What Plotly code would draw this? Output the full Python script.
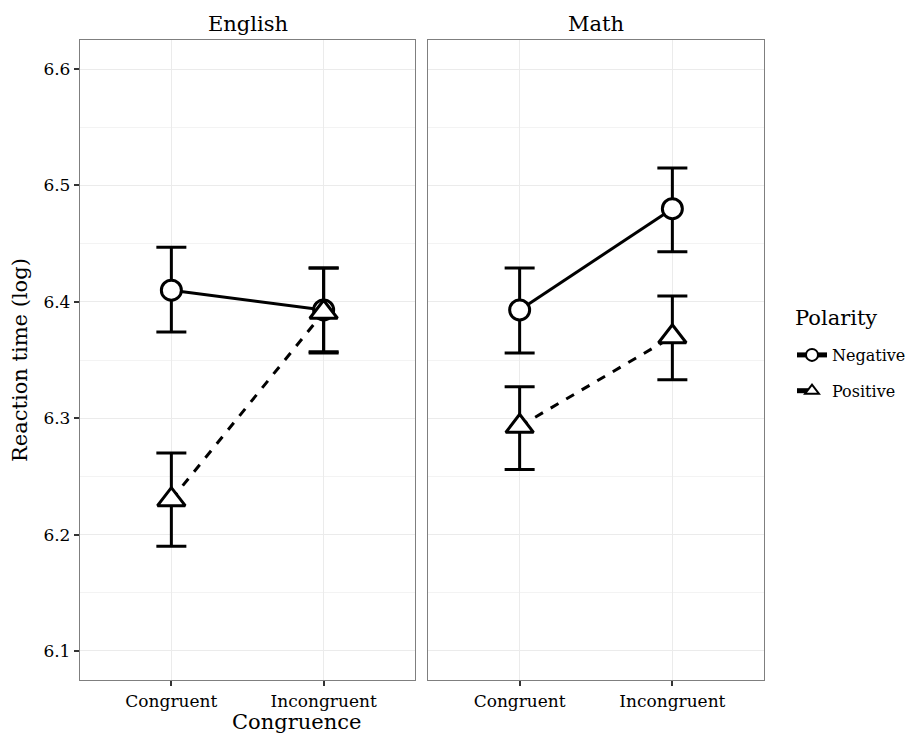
import plotly.graph_objects as go

categories = ["Congruent", "Incongruent"]
subjects = ["English", "Math"]
polarities = ["Negative", "Positive"]

eng_neg_mean = [6.410, 6.393]
eng_neg_lo = [6.374, 6.357]
eng_neg_hi = [6.447, 6.429]
eng_pos_mean = [6.230, 6.391]
eng_pos_lo = [6.190, 6.356]
eng_pos_hi = [6.270, 6.429]

math_neg_mean = [6.393, 6.480]
math_neg_lo = [6.356, 6.443]
math_neg_hi = [6.429, 6.515]
math_pos_mean = [6.293, 6.370]
math_pos_lo = [6.256, 6.333]
math_pos_hi = [6.327, 6.405]

y_ticks = [6.1, 6.2, 6.3, 6.4, 6.5, 6.6]
y_minor = [6.15, 6.25, 6.35, 6.45, 6.55]

FONT = "DejaVu Serif"
W, H = 916, 738
L, R, T, B = 80, 152, 40, 58

fig = go.Figure()

series = [
    ("x", "y", eng_neg_mean, eng_neg_lo, eng_neg_hi, "Negative", True),
    ("x", "y", eng_pos_mean, eng_pos_lo, eng_pos_hi, "Positive", True),
    ("x2", "y2", math_neg_mean, math_neg_lo, math_neg_hi, "Negative", False),
    ("x2", "y2", math_pos_mean, math_pos_lo, math_pos_hi, "Positive", False),
]

for xa, ya, m, lo, hi, pol, show in series:
    neg = pol == "Negative"
    fig.add_trace(go.Scatter(
        x=categories, y=m, xaxis=xa, yaxis=ya,
        mode="lines+markers", name=pol, legendgroup=pol, showlegend=show,
        line=dict(color="black", width=3, dash="solid" if neg else "dash"),
        marker=dict(symbol="circle" if neg else "triangle-up",
                    size=20 if neg else 24, color="white",
                    line=dict(color="black", width=3)),
        error_y=dict(type="data", symmetric=False,
                     array=[h - v for h, v in zip(hi, m)],
                     arrayminus=[v - l for l, v in zip(lo, m)],
                     color="black", thickness=3, width=15),
    ))

pw = W - L - R
ph = H - T - B
d1 = [0, 335 / pw]
d2 = [348 / pw, 1]

yr = [6.075, 6.625]
xr = [-0.6, 1.6]
common_x = dict(type="category", range=xr, showline=True, mirror=True,
                linecolor="#7f7f7f", linewidth=1.3, showgrid=True,
                gridcolor="#ebebeb", gridwidth=1, ticks="outside",
                ticklen=5, tickwidth=2, tickcolor="#333333",
                tickfont=dict(family=FONT, size=17, color="black"),
                zeroline=False, automargin=False)
common_y = dict(range=yr, showline=True, mirror=True, linecolor="#7f7f7f",
                linewidth=1.3, showgrid=True, gridcolor="#ebebeb",
                gridwidth=1, tickvals=y_ticks, zeroline=False,
                automargin=False,
                minor=dict(showgrid=True, gridcolor="#f3f3f3",
                           tickvals=y_minor))

fig.update_layout(
    width=W, height=H,
    margin=dict(l=L, r=R, t=T, b=B, autoexpand=False),
    plot_bgcolor="white", paper_bgcolor="white",
    font=dict(family=FONT, color="black"),
    xaxis=dict(domain=d1, anchor="y", **common_x),
    xaxis2=dict(domain=d2, anchor="y2", **common_x),
    yaxis=dict(domain=[0, 1], anchor="x", ticks="outside",
               ticklen=5, tickwidth=2, tickcolor="#333333",
               tickfont=dict(family=FONT, size=17, color="black"),
               tickformat=".1f", **common_y),
    yaxis2=dict(domain=[0, 1], anchor="x2", showticklabels=False,
                ticks="", **common_y),
    showlegend=True,
    legend=dict(x=792 / W, y=1 - 373 / H, xref="container", yref="container",
                xanchor="left", yanchor="middle", itemsizing="constant",
                font=dict(family=FONT, size=16), tracegroupgap=12,
                itemwidth=30, bgcolor="rgba(0,0,0,0)"),
    annotations=[
        dict(text="English", x=(d1[0] + d1[1]) / 2, y=1, xref="paper",
             yref="paper", xanchor="center", yanchor="bottom", yshift=2,
             showarrow=False, font=dict(family=FONT, size=21)),
        dict(text="Math", x=(d2[0] + d2[1]) / 2, y=1, xref="paper",
             yref="paper", xanchor="center", yanchor="bottom", yshift=2,
             showarrow=False, font=dict(family=FONT, size=21)),
        dict(text="Congruence", x=(296 - L) / pw, y=0, xref="paper",
             yref="paper", xanchor="center", yanchor="middle", yshift=-42,
             showarrow=False, font=dict(family=FONT, size=21)),
        dict(text="Reaction time (log)", x=0, y=0.5, xref="paper",
             yref="paper", xanchor="center", yanchor="middle", textangle=-90,
             xshift=-60, showarrow=False, font=dict(family=FONT, size=21)),
        dict(text="Polarity", x=(793 - L) / pw, y=(H - B - 318) / ph,
             xref="paper", yref="paper", xanchor="left", yanchor="middle",
             showarrow=False, font=dict(family=FONT, size=21)),
    ],
)

fig.write_html("out.html", config={"displayModeBar": False},
               post_script="document.body.style.margin='0';"
                           "document.body.style.overflow='hidden';")
